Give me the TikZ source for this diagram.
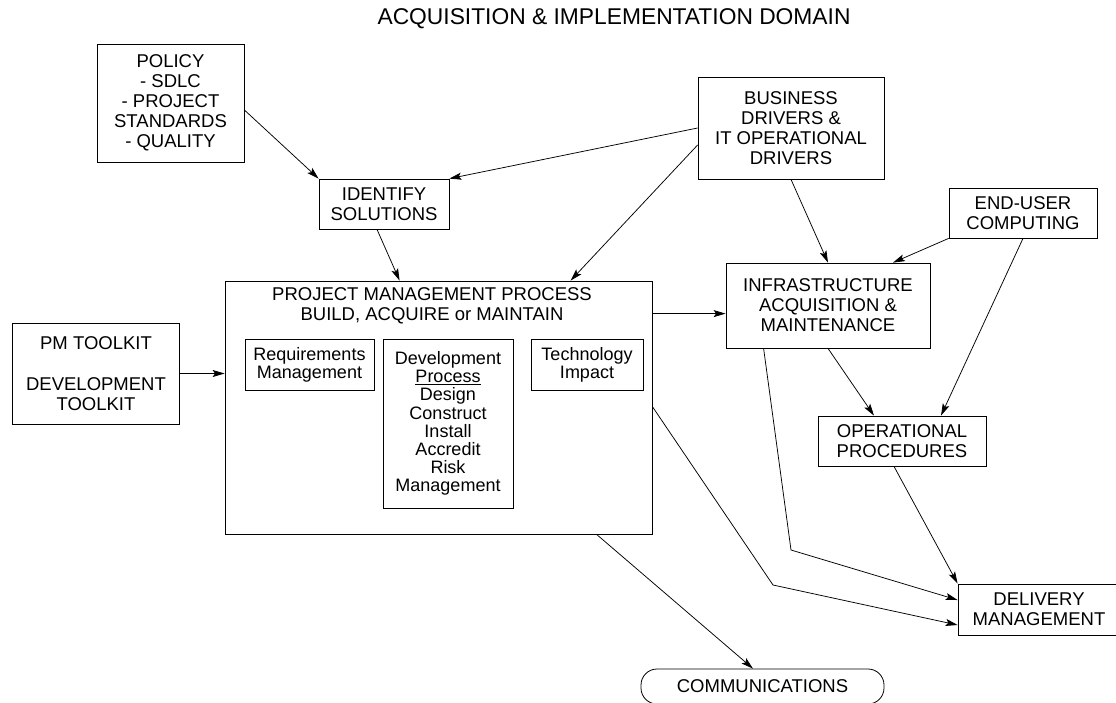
\documentclass[tikz,border=0pt]{standalone}
\usepackage{fontspec}
\setmainfont{Liberation Sans}
\usetikzlibrary{arrows.meta,calc}
\begin{document}
\begin{tikzpicture}[x=1pt,y=-1pt,
  box/.style={draw, line width=0.8pt, align=center, inner sep=0pt,
    font=\fontsize{18.5}{20}\selectfont},
  subbox/.style={draw, line width=0.8pt, align=center, inner sep=0pt,
    font=\fontsize{18}{18.2}\selectfont},
  label/.style={align=center, inner sep=0pt, font=\fontsize{18.5}{20}\selectfont},
  flow/.style={line width=0.75pt, -{Stealth[length=12pt,width=7pt,inset=2.5pt]}}]
\useasboundingbox (0,0) rectangle (1116,702);
\fill[white] (0,0) rectangle (1116,702);
\clip (0,0) rectangle (1116,702);

% heading
\node[label, font=\fontsize{22.8}{26}\selectfont] (title) at (614,19)
  {ACQUISITION \& IMPLEMENTATION DOMAIN};

% outer boxes
\node[box, minimum width=147, minimum height=118] (policy) at (170.5,103)
  {POLICY\\- SDLC\\- PROJECT\\STANDARDS\\- QUALITY};
\node[box, minimum width=186, minimum height=102] (business) at (791,128)
  {BUSINESS\\DRIVERS \&\\IT OPERATIONAL\\DRIVERS};
\node[box, minimum width=130, minimum height=50] (identify) at (384,204)
  {IDENTIFY\\SOLUTIONS};
\node[box, minimum width=148, minimum height=50] (enduser) at (1023,213)
  {END-USER\\COMPUTING};
\node[box, minimum width=204, minimum height=85] (infra) at (828,305.5)
  {INFRASTRUCTURE\\ACQUISITION \&\\MAINTENANCE};
\node[box, minimum width=167, minimum height=101] (pmtool) at (96,373.5)
  {PM TOOLKIT\\[21pt]DEVELOPMENT\\TOOLKIT};
\node[box, minimum width=168, minimum height=50] (oper) at (902,441)
  {OPERATIONAL\\PROCEDURES};
\node[box, minimum width=162, minimum height=51] (delivery) at (1039,609.5)
  {DELIVERY\\MANAGEMENT};
\node[box, rounded corners=16pt, minimum width=243, minimum height=35] (comm) at (762.5,686.5)
  {COMMUNICATIONS};

% project management process and its parts
\node[draw, line width=0.8pt, minimum width=427, minimum height=253, inner sep=0pt] (pm) at (438.5,407.5) {};
\node[label] (pmtitle) at (432,306)
  {PROJECT MANAGEMENT PROCESS\\BUILD, ACQUIRE or MAINTAIN};
\node[subbox, minimum width=129, minimum height=51] (reqs) at (309.5,364.5)
  {Requirements\\Management};
\node[subbox, minimum width=130, minimum height=169] (dev) at (448,423.5)
  {Development\\\underline{Process}\\Design\\Construct\\Install\\Accredit\\Risk\\Management};
\node[subbox, minimum width=112, minimum height=51] (tech) at (587,364.5)
  {Technology\\Impact};

% bend points of the routed connectors
\coordinate (bendA) at (791,550);
\coordinate (bendB) at (773,585);

% connectors
\draw[flow] ($(policy.east)+(0,7)$) -- (identify.north west);
\draw[flow] (business.west) -- (identify.north east);
\draw[flow] ($(business.west)+(0,17)$) -- ($(pm.north west)+(346,0)$);
\draw[flow] ($(identify.south)+(-7,0)$) -- ($(pm.north west)+(175,0)$);
\draw[flow] (business.south) -- (infra.north);
\draw[flow] (enduser.south west) -- ($(infra.north)+(65,0)$);
\draw[flow] (enduser.south) -- ($(oper.north)+(39,0)$);
\draw[flow] (infra.south) -- ($(oper.north)+(-28,0)$);
\draw[flow] ($(pm.north east)+(0,33)$) coordinate (pmout) -- (pmout -| infra.west);
\draw[flow] (pmtool.east) -- (pmtool.east -| pm.west);
\draw[flow] ($(infra.south west)+(38,0)$) -- (bendA) -- ($(delivery.west)+(0,-9.5)$);
\draw[flow] ($(pm.north east)+(0,126)$) -- (bendB) -- ($(delivery.west)+(0,15.5)$);
\draw[flow] ($(oper.south)+(-8,0)$) -- (delivery.north west);
\draw[flow] ($(pm.south west)+(372,0)$) -- ($(comm.north)+(-9.5,0)$);
\end{tikzpicture}
\end{document}
